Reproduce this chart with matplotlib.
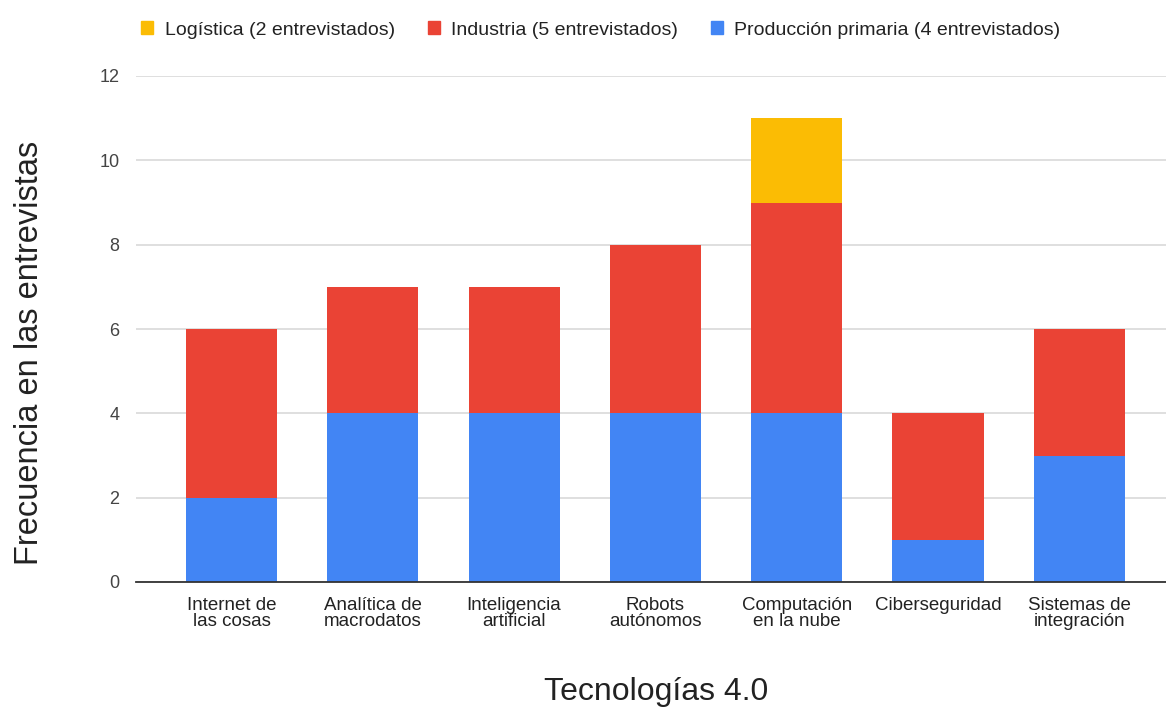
import matplotlib
matplotlib.use("Agg")
import matplotlib.pyplot as plt
from matplotlib.patches import Patch
import numpy as np

plt.rcParams['font.family'] = ['Liberation Sans', 'DejaVu Sans']

categories = ["Internet de\nlas cosas", "Analítica de\nmacrodatos", "Inteligencia\nartificial",
              "Robots\nautónomos", "Computación\nen la nube", "Ciberseguridad", "Sistemas de\nintegración"]
produccion = [2, 4, 4, 4, 4, 1, 3]
industria = [4, 3, 3, 4, 5, 3, 3]
logistica = [0, 0, 0, 0, 2, 0, 0]
series_labels = ["Logística (2 entrevistados)", "Industria (5 entrevistados)",
                 "Producción primaria (4 entrevistados)"]
y_ticks = [0, 2, 4, 6, 8, 10, 12]

c_blue = "#4285F4"
c_red = "#EA4335"
c_yellow = "#FBBC04"

W, H = 1166, 711
fig = plt.figure(figsize=(W / 100, H / 100), dpi=100)
ax_left, ax_right, ax_bottom, ax_top = 136, 136 + 7.352 * 141.3, 582, 76
ax = fig.add_axes([ax_left / W, (H - ax_bottom) / H, (ax_right - ax_left) / W, (ax_bottom - ax_top) / H])

x = np.arange(len(categories))
width = 0.645
prod = np.array(produccion)
ind = np.array(industria)
log = np.array(logistica)
ax.bar(x, prod, width, color=c_blue, zorder=3)
ax.bar(x, ind, width, bottom=prod, color=c_red, zorder=3)
ax.bar(x, log, width, bottom=prod + ind, color=c_yellow, zorder=3)

ax.set_xlim(-0.676, 6.676)
ax.set_ylim(0, 12)
ax.set_yticks(y_ticks)
ax.set_yticklabels([str(t) for t in y_ticks], fontsize=13, color="#444444")
ax.set_xticks(x)
ax.set_xticklabels(categories, fontsize=13.5, color="#222222", linespacing=0.92)
ax.tick_params(axis='both', length=0)
ax.tick_params(axis='y', pad=12)
ax.tick_params(axis='x', pad=11)
ax.grid(axis='y', color="#d9d9d9", linewidth=1.2, zorder=0)
for s in ["top", "right", "left"]:
    ax.spines[s].set_visible(False)
ax.spines["bottom"].set_color("#333333")
ax.spines["bottom"].set_linewidth(1.3)
ax.spines["bottom"].set_zorder(4)

fig.text(30 / W, 1 - 353 / H, "Frecuencia en las entrevistas", rotation=90,
         ha='center', va='center', fontsize=23.5, color="#222222")
fig.text(656 / W, 1 - 692 / H, "Tecnologías 4.0", ha='center', va='center',
         fontsize=23, color="#222222")

handles = [Patch(color=c_yellow), Patch(color=c_red), Patch(color=c_blue)]
fig.legend(handles, series_labels, loc='center', bbox_to_anchor=(601 / W, 1 - 30 / H),
           ncol=3, frameon=False, fontsize=14, handlelength=0.6, handleheight=0.6,
           handletextpad=0.6, columnspacing=1.7, labelcolor="#222222")

fig.savefig("out.png", dpi=100)
